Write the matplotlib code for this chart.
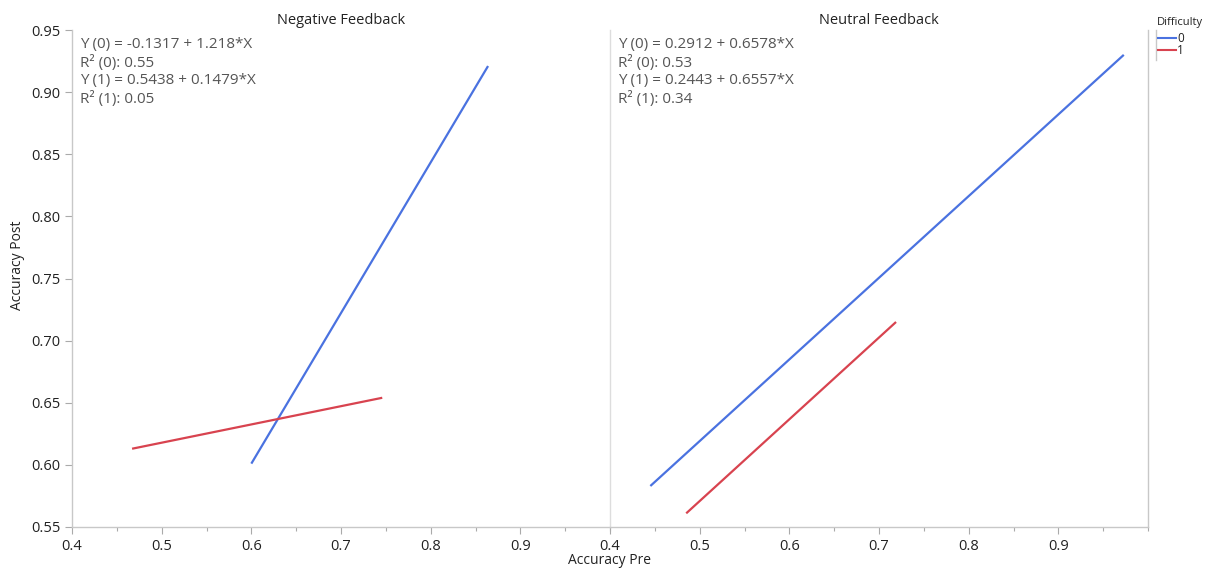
import numpy as np
import matplotlib.pyplot as plt
from matplotlib.ticker import MultipleLocator, FormatStrFormatter

plt.rcParams['font.family'] = ['Open Sans', 'DejaVu Sans']

# fit line endpoints (x = Accuracy Pre, y = Accuracy Post)
panels = ['Negative Feedback', 'Neutral Feedback']
neg_d0_x = [0.600, 0.864]
neg_d0_y = [0.601, 0.921]
neg_d1_x = [0.467, 0.746]
neg_d1_y = [0.613, 0.654]
neu_d0_x = [0.445, 0.973]
neu_d0_y = [0.583, 0.930]
neu_d1_x = [0.485, 0.719]
neu_d1_y = [0.561, 0.715]

neg_text = ['Y (0) = -0.1317 + 1.218*X', 'R² (0): 0.55',
            'Y (1) = 0.5438 + 0.1479*X', 'R² (1): 0.05']
neu_text = ['Y (0) = 0.2912 + 0.6578*X', 'R² (0): 0.53',
            'Y (1) = 0.2443 + 0.6557*X', 'R² (1): 0.34']

blue = '#4a72e0'
red = '#d8434f'
gray = '#c8c8c8'
txt = '#555555'

fig = plt.figure(figsize=(12.06, 5.69), dpi=100)
W, H = 1206, 569
bottom = 1 - 527 / H
height = (527 - 30) / H
ax1 = fig.add_axes([72 / W, bottom, (610 - 72) / W, height])
ax2 = fig.add_axes([610 / W, bottom, (1148 - 610) / W, height])

data = [
    (ax1, neg_d0_x, neg_d0_y, neg_d1_x, neg_d1_y, neg_text),
    (ax2, neu_d0_x, neu_d0_y, neu_d1_x, neu_d1_y, neu_text),
]
for i, (ax, x0, y0, x1, y1, lines) in enumerate(data):
    ax.plot(x0, y0, color=blue, lw=1.6, solid_capstyle='butt')
    ax.plot(x1, y1, color=red, lw=1.6, solid_capstyle='butt')
    ax.set_xlim(0.4, 1.0)
    ax.set_ylim(0.55, 0.95)
    ax.xaxis.set_major_locator(MultipleLocator(0.1))
    ax.xaxis.set_minor_locator(MultipleLocator(0.05))
    ax.xaxis.set_major_formatter(FormatStrFormatter('%.1f'))
    ax.yaxis.set_major_locator(MultipleLocator(0.05))
    ax.yaxis.set_major_formatter(FormatStrFormatter('%.2f'))
    ax.tick_params(axis='both', colors='#aaaaaa', labelcolor='#222222',
                   labelsize=10.5, length=5, width=0.8)
    ax.tick_params(axis='x', which='minor', colors='#aaaaaa', length=3, width=0.8)
    # no 1.0 label at the panel edge
    ax.set_xticks([0.4, 0.5, 0.6, 0.7, 0.8, 0.9])
    ax.spines['top'].set_visible(False)
    for s in ['left', 'right', 'bottom']:
        ax.spines[s].set_color(gray)
        ax.spines[s].set_linewidth(1.0)
    if i == 0:
        ax.spines['right'].set_visible(False)
    else:
        ax.tick_params(axis='y', left=False, labelleft=False)
    ax.set_title(panels[i], fontsize=10.5, color='#222222', pad=4)
    for k, line in enumerate(lines):
        ax.text(0.014, 0.985 - k * 0.036, line, transform=ax.transAxes,
                fontsize=11, color=txt, va='top', ha='left')

ax2.spines['left'].set_color('#dddddd')

fig.text(610 / W, 1 - 560 / H, 'Accuracy Pre', ha='center', va='center',
         fontsize=10, color='#222222')
fig.text(18 / W, 1 - 265 / H, 'Accuracy Post', ha='center', va='center',
         rotation=90, fontsize=10, color='#222222')

# legend
fig.text(1157 / W, 1 - 23 / H, 'Difficulty', fontsize=8, color='#222222',
         va='center', ha='left')
fig.add_artist(plt.Line2D([1156 / W, 1156 / W], [1 - 30 / H, 1 - 60 / H],
                          color=gray, lw=1))
fig.add_artist(plt.Line2D([1158 / W, 1176 / W], [1 - 38 / H, 1 - 38 / H],
                          color=blue, lw=1.5))
fig.add_artist(plt.Line2D([1158 / W, 1176 / W], [1 - 50 / H, 1 - 50 / H],
                          color=red, lw=1.5))
fig.text(1177 / W, 1 - 38 / H, '0', fontsize=8.5, color='#222222', va='center')
fig.text(1177 / W, 1 - 50 / H, '1', fontsize=8.5, color='#222222', va='center')

fig.savefig('out.png', dpi=100)
